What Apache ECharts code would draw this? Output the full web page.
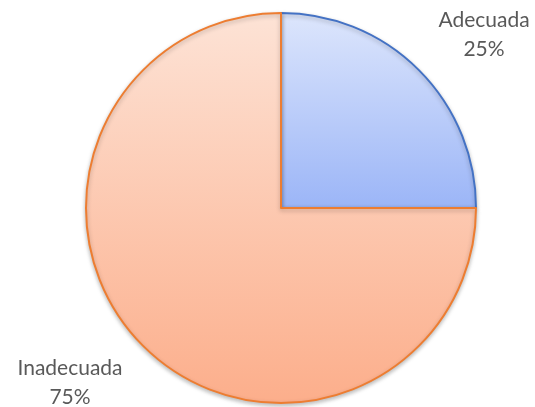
<!DOCTYPE html>
<html>
<head>
<meta charset="utf-8">
<script src="https://cdn.jsdelivr.net/npm/echarts@6/dist/echarts.min.js"></script>
<style>
  html, body { margin: 0; padding: 0; background: #fff; }
  #chart { width: 535px; height: 407px; }
</style>
</head>
<body>
<div id="chart"></div>
<script>
// カテゴリーと値
const categories = ['Adecuada', 'Inadecuada'];
const values = [25, 75];

// 色（上→下のグラデーション）と枠線
const fillTop = ['#dde6fc', '#fde3d6'];
const fillBottom = ['#9bb5f7', '#fcae8b'];
const borders = ['#4472c4', '#ed7d31'];

// ラベル位置（チャート上の座標）
const labelPos = [[484, 35], [70, 383]];

const chart = echarts.init(document.getElementById('chart'));

const data = categories.map((name, i) => ({
  name: name,
  value: values[i],
  itemStyle: {
    color: new echarts.graphic.LinearGradient(0, 0, 0, 1, [
      { offset: 0, color: fillTop[i] },
      { offset: 1, color: fillBottom[i] }
    ]),
    borderColor: borders[i],
    borderWidth: 2
  }
}));

chart.setOption({
  animation: false,
  series: [
    {
      type: 'pie',
      center: [281, 208],
      radius: 195,
      startAngle: 90,
      clockwise: true,
      data: data,
      itemStyle: {
        shadowBlur: 4,
        shadowOffsetY: 2,
        shadowColor: 'rgba(0,0,0,0.25)'
      },
      emphasis: { disabled: true },
      label: {
        show: true,
        position: 'outside',
        formatter: p => p.name + '\n' + Math.round(p.percent) + '%',
        color: '#595959',
        fontFamily: 'Lato',
        fontSize: 21,
        lineHeight: 29,
        align: 'center',
        overflow: 'none'
      },
      labelLine: { show: false },
      labelLayout: params => ({
        x: labelPos[params.dataIndex][0],
        y: labelPos[params.dataIndex][1],
        align: 'center',
        verticalAlign: 'middle'
      })
    }
  ]
});
</script>
</body>
</html>
